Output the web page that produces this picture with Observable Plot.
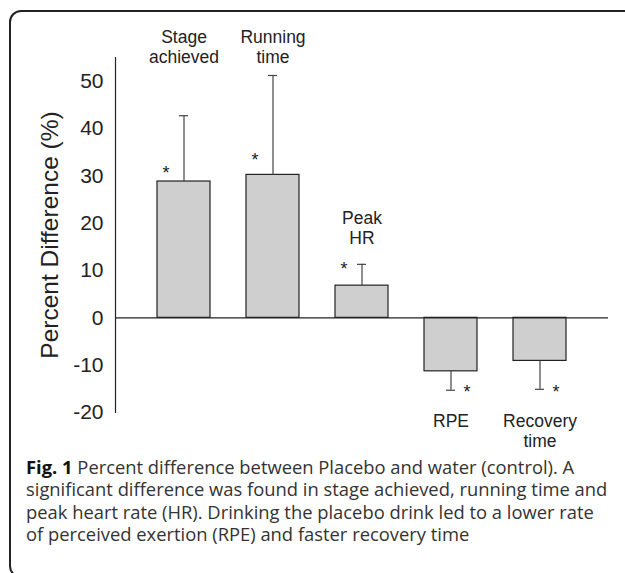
<!DOCTYPE html>
<html>
<head>
<meta charset="utf-8">
<script src="https://cdn.jsdelivr.net/npm/d3@7"></script>
<script src="https://cdn.jsdelivr.net/npm/@observablehq/plot@0.6"></script>
<style>
  html, body { margin: 0; padding: 0; background: #fff; }
  #wrap { position: relative; width: 625px; height: 573px; overflow: hidden; }
  #frame { position: absolute; left: 9px; top: 10px; width: 720px; height: 568px;
           border: 2px solid #222; border-radius: 12px; box-sizing: border-box; }
  #chart { position: absolute; left: 0; top: 0; }
  #caption { position: absolute; left: 26px; top: 456px;
             font-family: "Open Sans", "Noto Sans", sans-serif; font-size: 17px;
             color: #333; white-space: nowrap; }
  #caption div { height: 22.3px; line-height: 22.3px; }
  #caption span.w { display: inline-block; }
  #caption b { color: #111; }
</style>
</head>
<body>
<div id="wrap">
  <div id="frame"></div>
  <div id="chart"></div>
  <div id="caption">
    <div><b>Fig. 1</b> Percent difference between Placebo and water (control). A</div>
    <div><span class="w" id="line2">significant difference was found in stage achieved, running time and</span></div>
    <div>peak heart rate (HR). Drinking the placebo drink led to a lower rate</div>
    <div>of perceived exertion (RPE) and faster recovery time</div>
  </div>
</div>
<script>
// Data
const categories = ["Stage achieved", "Running time", "Peak HR", "RPE", "Recovery time"];
const values = [28.8, 30.2, 6.8, -11.3, -9.1];
const errorEnds = [42.7, 51.2, 11.3, -15.3, -15.1];
const labelLines = ["Stage\nachieved", "Running\ntime", "Peak\nHR", "RPE", "Recovery\ntime"];
const labelY = [57.3, 57.3, 19.1, -21.7, -23.8];
const starY = [31.8, 34.5, 11.5, -14.7, -14.7];
const yTicks = [-20, -10, 0, 10, 20, 30, 40, 50];
const yDomain = [-20, 55];
const yLabel = "Percent Difference (%)";

const rows = categories.map((c, i) => ({
  cat: c, value: values[i], err: errorEnds[i], label: labelLines[i], ly: labelY[i], sy: starY[i]
}));

const chart = Plot.plot({
  width: 625,
  height: 450,
  marginLeft: 115,
  marginRight: 17,
  marginTop: 57,
  marginBottom: 38,
  style: { fontFamily: "'Liberation Sans', Arial, sans-serif", color: "#222", background: "transparent" },
  x: { domain: categories, paddingInner: 0.4, paddingOuter: 0.448, axis: null },
  y: { domain: yDomain, ticks: yTicks, label: null },
  marks: [
    Plot.frame({ anchor: "left", stroke: "#222", strokeWidth: 1.2 }),
    Plot.axisY({ ticks: yTicks, tickSize: 0, tickPadding: 12, fontSize: 21, label: null, tickFormat: d => String(d) }),
    Plot.barY(rows, { x: "cat", y: "value", fill: "#cfcfcf", stroke: "#222", strokeWidth: 1.2 }),
    Plot.ruleY([0], { stroke: "#222", strokeWidth: 1.2 }),
    Plot.ruleX(rows, { x: "cat", y1: "value", y2: "err", stroke: "#444", strokeWidth: 1.2 }),
    Plot.tickY(rows, { x: "cat", y: "err", stroke: "#444", strokeWidth: 1.2, insetLeft: 22, insetRight: 22 }),
    Plot.text(rows.filter(d => d.value > 0), { x: "cat", y: "sy", text: () => "*", dx: -18, dy: 6, fontSize: 18, fill: "#222" }),
    Plot.text(rows.filter(d => d.value < 0), { x: "cat", y: "sy", text: () => "*", dx: 16, dy: 5, fontSize: 18, fill: "#222" }),
    Plot.text(rows, { x: "cat", y: "ly", text: "label", fontSize: 17.5, lineHeight: 1.14, fill: "#222" }),
    Plot.text([yLabel], { frameAnchor: "left", textAnchor: "middle", text: d => d, rotate: -90, dx: -65, fontSize: 24.5, fill: "#222" })
  ]
});
document.getElementById("chart").appendChild(chart);

// fit caption font so the second line spans the same width as in the reference
const line2 = document.getElementById("line2");
const w = line2.getBoundingClientRect().width;
const cap = document.getElementById("caption");
cap.style.fontSize = (17 * 582 / w).toFixed(2) + "px";
</script>
</body>
</html>
